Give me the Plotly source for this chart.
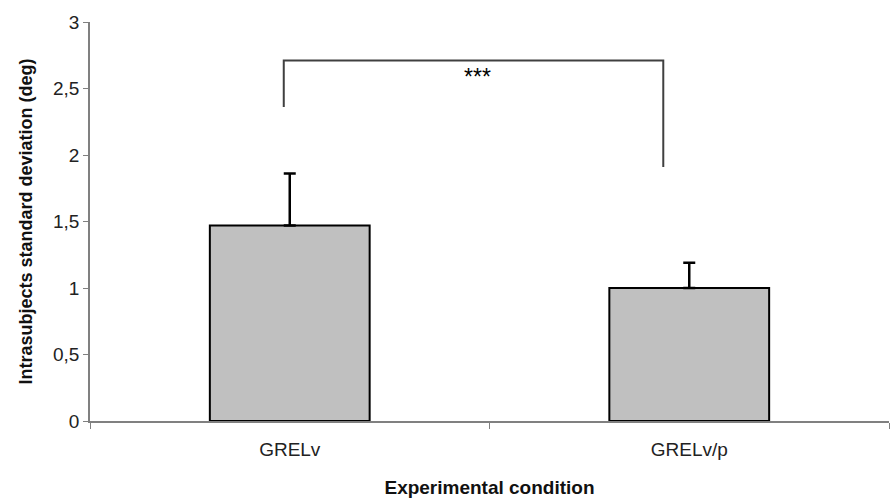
import plotly.graph_objects as go

# ---- data ----
categories = ["GRELv", "GRELv/p"]
means = [1.47, 1.00]
sd_plus = [0.39, 0.19]
y_ticks = [0, 0.5, 1, 1.5, 2, 2.5, 3]

# significance bracket (category-index x positions, data-unit y values)
bracket_x = [-0.015, 0.935]
bracket_top = 2.71
bracket_leg_bottom = [2.36, 1.91]
sig_label = "***"
sig_x = 0.47
sig_y = 2.59

FONT = "Liberation Sans, Arial, sans-serif"

fig = go.Figure()
fig.add_trace(go.Bar(
    x=categories,
    y=means,
    width=0.4,
    marker=dict(color="#c0c0c0", line=dict(color="black", width=2)),
    error_y=dict(type="data", array=sd_plus, arrayminus=[0] * len(sd_plus),
                 symmetric=False, color="black", thickness=2.5, width=6),
    showlegend=False,
))

# bracket
path = (f"M {bracket_x[0]},{bracket_leg_bottom[0]} L {bracket_x[0]},{bracket_top} "
        f"L {bracket_x[1]},{bracket_top} L {bracket_x[1]},{bracket_leg_bottom[1]}")
fig.add_shape(type="path", path=path, xref="x", yref="y",
              line=dict(color="#404040", width=2))
fig.add_annotation(x=sig_x, y=sig_y, xref="x", yref="y", text=sig_label,
                   showarrow=False, font=dict(family=FONT, size=23, color="black"))

fig.update_layout(
    width=893, height=498,
    margin=dict(l=90, r=4, t=22, b=77),
    plot_bgcolor="white", paper_bgcolor="white",
    separators=",.",
    font=dict(family=FONT, color="#222222"),
    bargap=0.6,
)
fig.update_xaxes(
    type="category", range=[-0.5, 1.5], automargin=False,
    showline=True, linecolor="#808080", linewidth=1.5,
    ticks="outside", tickson="boundaries", ticklen=6, tickcolor="#808080",
    ticklabelstandoff=10,
    tickfont=dict(family=FONT, size=19, color="#222222"),
    showgrid=False, zeroline=False,
    title=dict(text="<b>Experimental condition</b>", standoff=23,
               font=dict(family=FONT, size=19, color="#111111")),
)
fig.update_yaxes(
    range=[0, 3], tickvals=y_ticks, automargin=False,
    showline=True, linecolor="#808080", linewidth=1.5,
    ticks="outside", ticklen=5, tickcolor="#808080",
    tickfont=dict(family=FONT, size=19, color="#222222"),
    showgrid=False, zeroline=False,
    title=dict(text="<b>Intrasubjects standard deviation (deg)</b>", standoff=16,
               font=dict(family=FONT, size=18, color="#111111")),
)

fig.write_html("out.html")
